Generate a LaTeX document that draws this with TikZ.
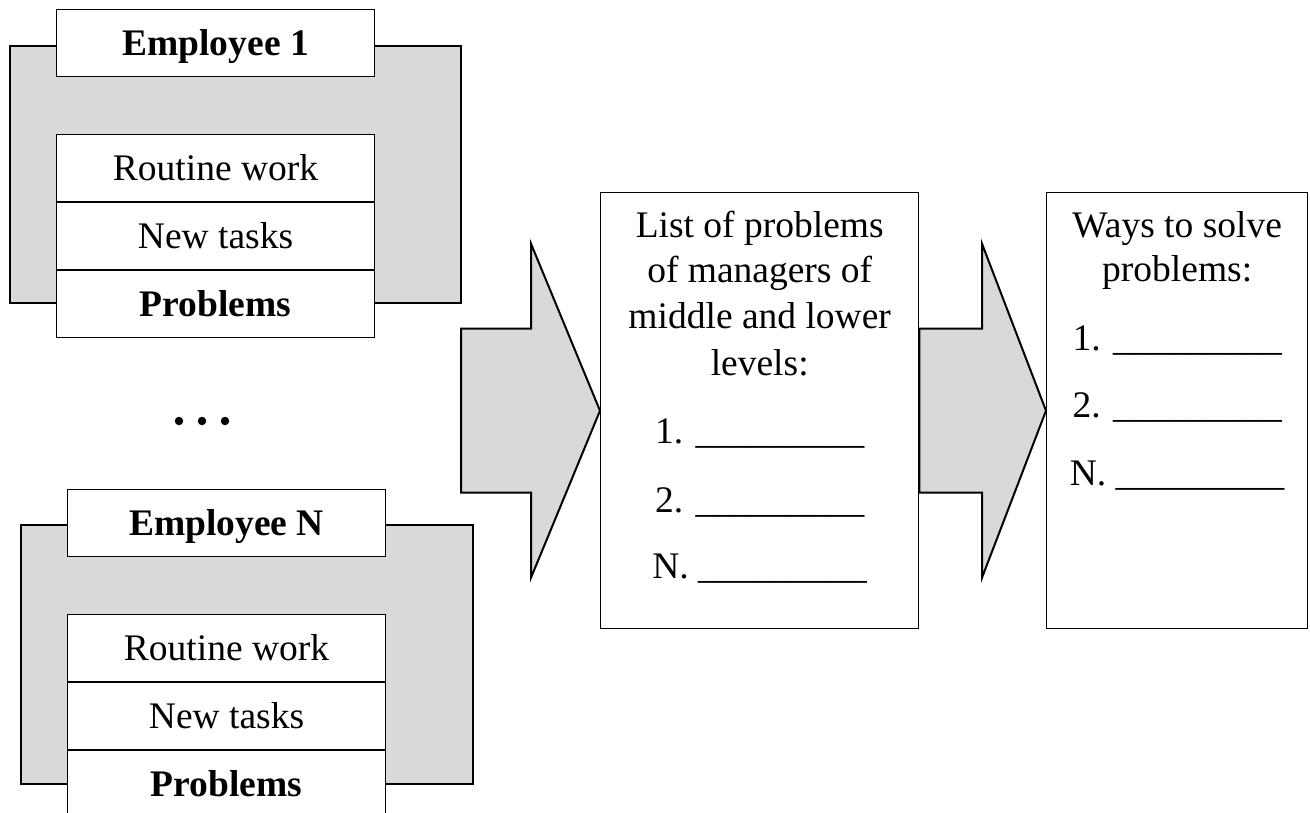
\documentclass[tikz,border=0pt]{standalone}
\usepackage{fontspec}
\setmainfont{Liberation Serif}
\usetikzlibrary{calc}
\definecolor{panelgray}{HTML}{D9D9D9}
\begin{document}
\begin{tikzpicture}[x=1pt,y=-1pt,
  txt/.style={font=\fontsize{37.5}{46}\selectfont},
  txtbold/.style={font=\fontsize{37.5}{46}\selectfont\bfseries},
  panel/.style={draw=black, line width=2.5pt, fill=panelgray},
  cell/.style={draw=black, line width=1.1pt, fill=white, minimum width=318pt,
    minimum height=67pt, inner sep=0pt, text height=25pt, text depth=0pt,
    anchor=north west, txt},
  headcell/.style={cell, txtbold},
  listbox/.style={draw=black, line width=1.4pt, fill=white, minimum height=436pt,
    inner sep=0pt, anchor=north west},
  blockarrow/.style={draw=black, line width=2pt, fill=panelgray, line join=miter},
  textline/.style={anchor=base, inner sep=0pt, txt},
  dot/.style={circle, fill=black, inner sep=0pt, minimum size=8.5pt}]

\useasboundingbox (0,0) rectangle (1310,812);
\clip (0,0) rectangle (1310,812);

% first employee
\draw[panel] (10,46) rectangle (461,303);
\node[headcell] (emp1) at (56,9) {Employee 1};
\node[cell] (rw1) at (56,134) {Routine work};
\node[cell] (nt1) at (rw1.south west) {New tasks};
\node[headcell] (pr1) at (nt1.south west) {Problems};

% ellipsis between the employees
\node[dot] (d1) at (179,421) {};
\node[dot] (d2) at (202,421) {};
\node[dot] (d3) at (225,421) {};

% last employee
\draw[panel] (21,525) rectangle (473,784);
\node[headcell] (empN) at (67,489) {Employee N};
\node[cell] (rwN) at (67,614) {Routine work};
\node[cell] (ntN) at (rwN.south west) {New tasks};
\node[headcell] (prN) at (ntN.south west) {Problems};

% result boxes
\node[listbox, minimum width=318pt] (list) at (600,192) {};
\node[listbox, minimum width=261pt] (ways) at (1046,192) {};

% block arrow into the list of problems
\draw[blockarrow] ($(list.west)+(-139,-82)$) -- ($(list.west)+(-69,-82)$)
  -- ($(list.west)+(-69,-167)$) -- (list.west) -- ($(list.west)+(-69,167)$)
  -- ($(list.west)+(-69,82)$) -- ($(list.west)+(-139,82)$) -- cycle;

% block arrow into the ways to solve them
\draw[blockarrow] ($(list.east)+(0,-82)$) -- ($(ways.west)+(-64,-82)$)
  -- ($(ways.west)+(-64,-167)$) -- (ways.west) -- ($(ways.west)+(-64,167)$)
  -- ($(ways.west)+(-64,82)$) -- ($(list.east)+(0,82)$) -- cycle;

% text of the list of problems
\foreach \t/\dy [count=\i] in {
    List of problems/45, of managers of/90, middle and lower/136, levels:/183,
    1. \_\_\_\_\_\_\_\_\_/251, 2. \_\_\_\_\_\_\_\_\_/320, N. \_\_\_\_\_\_\_\_\_/386}
  \node[textline] (lst\i) at ($(list.north)+(0,\dy)$) {\t};

% text of the ways to solve problems
\foreach \t/\dy [count=\i] in {
    Ways to solve/45, problems:/89,
    1. \_\_\_\_\_\_\_\_\_/158, 2. \_\_\_\_\_\_\_\_\_/225, N. \_\_\_\_\_\_\_\_\_/293}
  \node[textline] (way\i) at ($(ways.north)+(0,\dy)$) {\t};

\end{tikzpicture}
\end{document}
